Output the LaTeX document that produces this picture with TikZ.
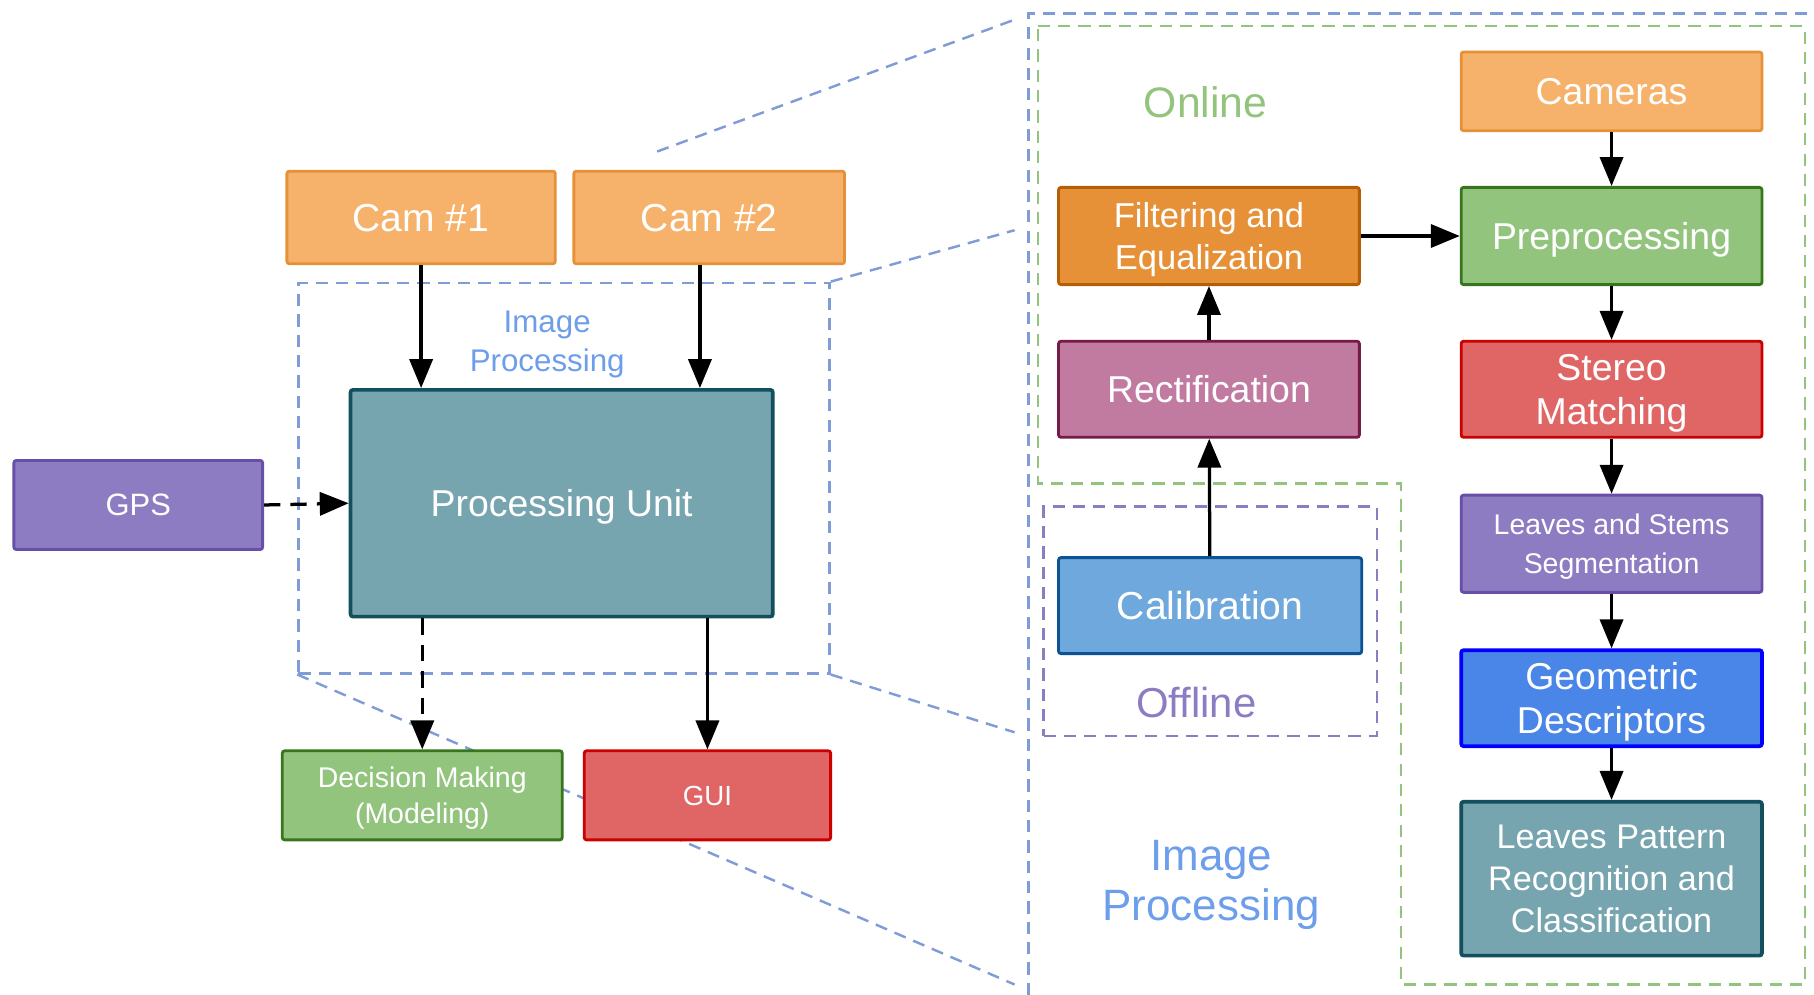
\documentclass[tikz,border=0pt]{standalone}
\usepackage{fontspec}
\setmainfont{Liberation Sans}
\usetikzlibrary{arrows.meta,positioning}

\definecolor{camorange}{HTML}{F6B26B}
\definecolor{camorangerand}{HTML}{E69138}
\definecolor{filtorange}{HTML}{E69138}
\definecolor{filtorangerand}{HTML}{B45F06}
\definecolor{gruen}{HTML}{93C47D}
\definecolor{gruenrand}{HTML}{38761D}
\definecolor{rot}{HTML}{E06666}
\definecolor{rotrand}{HTML}{CC0000}
\definecolor{lila}{HTML}{8E7CC3}
\definecolor{lilarand}{HTML}{674EA7}
\definecolor{petrol}{HTML}{76A5AF}
\definecolor{petrolrand}{HTML}{134F5C}
\definecolor{rosa}{HTML}{C27BA0}
\definecolor{rosarand}{HTML}{741B47}
\definecolor{hellblau}{HTML}{6FA8DC}
\definecolor{hellblaurand}{HTML}{0B5394}
\definecolor{blau}{HTML}{4A86E8}
\definecolor{blaurand}{HTML}{0000FF}
\definecolor{rahmenblau}{HTML}{7F9CD6}
\definecolor{textblau}{HTML}{6D9EEB}

\begin{document}
\begin{tikzpicture}[
    box/.style={draw, line width=0.7pt, rounded corners=0.6pt, text=white, align=center, inner sep=0pt, text depth=0pt},
    pfeil/.style={-{Triangle[length=2.5mm,width=2mm]}, line width=0.8pt},
    strichpfeil/.style={pfeil, dash pattern=on 4pt off 2.5pt},
    zoomlinie/.style={rahmenblau, line width=0.6pt, dash pattern=on 3pt off 2pt},
    gruenlinie/.style={gruen, line width=0.6pt, dash pattern=on 3pt off 2pt}
]
    \useasboundingbox (0,0) rectangle (15.68,8.60);

    % Bildverarbeitung (links, Rahmen)
    \node[draw=rahmenblau, line width=0.6pt, dash pattern=on 3pt off 2pt, inner sep=0pt,
          minimum width=4.59cm, minimum height=3.375cm] (ipklein) at (4.875,4.4675) {};
    \node[text=textblau, align=center, font=\fontsize{7.7}{9.6}\selectfont] (iplabel) at (4.73,5.62) {Image\\Processing};

    % Zoom-Linien
    \coordinate (z1) at (5.68,7.29);
    \coordinate (z1e) at (8.77,8.43);
    \coordinate (z2e) at (8.77,6.61);
    \coordinate (z3e) at (8.77,2.27);
    \coordinate (z4e) at (8.77,0.09);
    \draw[zoomlinie] (z1) -- (z1e);
    \draw[zoomlinie] (ipklein.north east) -- (z2e);
    \draw[zoomlinie] (ipklein.south east) -- (z3e);
    \draw[zoomlinie] (ipklein.south west) -- (z4e);

    % Rahmen rechts
    \draw[zoomlinie] (8.89,0) -- (8.89,8.485) -- (15.68,8.485);
    \draw[gruenlinie] (8.97,8.375) -- (15.60,8.375) -- (15.60,0.09) -- (12.11,0.09)
        -- (12.11,4.42) -- (8.97,4.42) -- cycle;
    \node[draw=lila, line width=0.6pt, dash pattern=on 3pt off 2pt, inner sep=0pt,
          minimum width=2.88cm, minimum height=1.98cm] (offbox) at (10.46,3.23) {};

    % Beschriftungen
    \node[text=gruen, font=\fontsize{10.5}{12.6}\selectfont] (online) at (10.42,7.72) {Online};
    \node[text=lila, font=\fontsize{10.3}{12.4}\selectfont] (offline) at (10.34,2.53) {Offline};
    \node[text=textblau, align=center, font=\fontsize{10.8}{12.4}\selectfont] (ipgross) at (10.47,0.95) {Image\\Processing};

    % System links
    \node[box, fill=camorange, draw=camorangerand, minimum width=2.32cm, minimum height=0.80cm,
          font=\fontsize{9.6}{11.5}\selectfont] (cam1) at (3.64,6.72) {Cam \#1};
    \node[box, fill=camorange, draw=camorangerand, minimum width=2.34cm, minimum height=0.80cm,
          font=\fontsize{9.6}{11.5}\selectfont] (cam2) at (6.13,6.72) {Cam \#2};
    \node[box, fill=petrol, draw=petrolrand, line width=0.9pt, minimum width=3.65cm, minimum height=1.96cm,
          font=\fontsize{9.2}{11}\selectfont] (pu) at (4.855,4.25) {Processing Unit};
    \node[box, fill=lila, draw=lilarand, minimum width=2.15cm, minimum height=0.77cm,
          font=\fontsize{7.6}{9}\selectfont] (gps) at (1.195,4.235) {GPS};
    \node[box, fill=gruen, draw=gruenrand, minimum width=2.42cm, minimum height=0.77cm,
          font=\fontsize{7.0}{8.8}\selectfont] (dec) at (3.65,1.725) {Decision Making\\(Modeling)};
    \node[box, fill=rot, draw=rotrand, minimum width=2.13cm, minimum height=0.77cm,
          font=\fontsize{6.8}{8}\selectfont] (gui) at (6.115,1.725) {GUI};

    % Bildverarbeitung rechts
    \node[box, fill=camorange, draw=camorangerand, minimum width=2.60cm, minimum height=0.68cm,
          font=\fontsize{9.2}{11}\selectfont] (cameras) at (13.93,7.81) {Cameras};
    \node[box, fill=gruen, draw=gruenrand, minimum width=2.60cm, minimum height=0.84cm,
          font=\fontsize{9.2}{11}\selectfont] (prep) at (13.93,6.56) {Preprocessing};
    \node[box, fill=rot, draw=rotrand, minimum width=2.60cm, minimum height=0.83cm,
          font=\fontsize{9.2}{10.8}\selectfont] (stereo) at (13.93,5.235) {Stereo\\Matching};
    \node[box, fill=lila, draw=lilarand, minimum width=2.60cm, minimum height=0.84cm,
          font=\fontsize{7.0}{9.8}\selectfont] (seg) at (13.93,3.90) {Leaves and Stems\\Segmentation};
    \node[box, fill=blau, draw=blaurand, line width=0.9pt, minimum width=2.60cm, minimum height=0.83cm,
          font=\fontsize{9.2}{10.8}\selectfont] (geo) at (13.93,2.565) {Geometric\\Descriptors};
    \node[box, fill=petrol, draw=petrolrand, line width=0.9pt, minimum width=2.60cm, minimum height=1.33cm,
          font=\fontsize{8.4}{10.4}\selectfont] (lpr) at (13.93,1.005) {Leaves Pattern\\Recognition and\\Classification};
    \node[box, fill=filtorange, draw=filtorangerand, minimum width=2.60cm, minimum height=0.84cm,
          font=\fontsize{8.5}{10.2}\selectfont] (filt) at (10.45,6.56) {Filtering and\\Equalization};
    \node[box, fill=rosa, draw=rosarand, minimum width=2.60cm, minimum height=0.83cm,
          font=\fontsize{9.2}{11}\selectfont] (rect) at (10.45,5.235) {Rectification};
    \node[box, fill=hellblau, draw=hellblaurand, minimum width=2.62cm, minimum height=0.83cm,
          font=\fontsize{9.6}{11.5}\selectfont] (calib) at (10.46,3.365) {Calibration};

    % Pfeile links
    \draw[pfeil] (cam1.south) -- (cam1.south |- pu.north);
    \draw[pfeil] ([xshift=-0.08cm]cam2.south) -- ([xshift=-0.08cm]cam2.south |- pu.north);
    \draw[strichpfeil] (gps.east) -- (pu.west);
    \draw[strichpfeil] (pu.south -| dec.north) -- (dec.north);
    \draw[pfeil] (pu.south -| gui.north) -- (gui.north);

    % Pfeile rechts
    \draw[pfeil] (cameras) -- (prep);
    \draw[pfeil] (prep) -- (stereo);
    \draw[pfeil] (stereo) -- (seg);
    \draw[pfeil] (seg) -- (geo);
    \draw[pfeil] (geo) -- (lpr);
    \draw[pfeil] (filt) -- (prep);
    \draw[pfeil] (rect) -- (filt);
    \draw[pfeil] (calib) -- (rect);

\end{tikzpicture}
\end{document}
